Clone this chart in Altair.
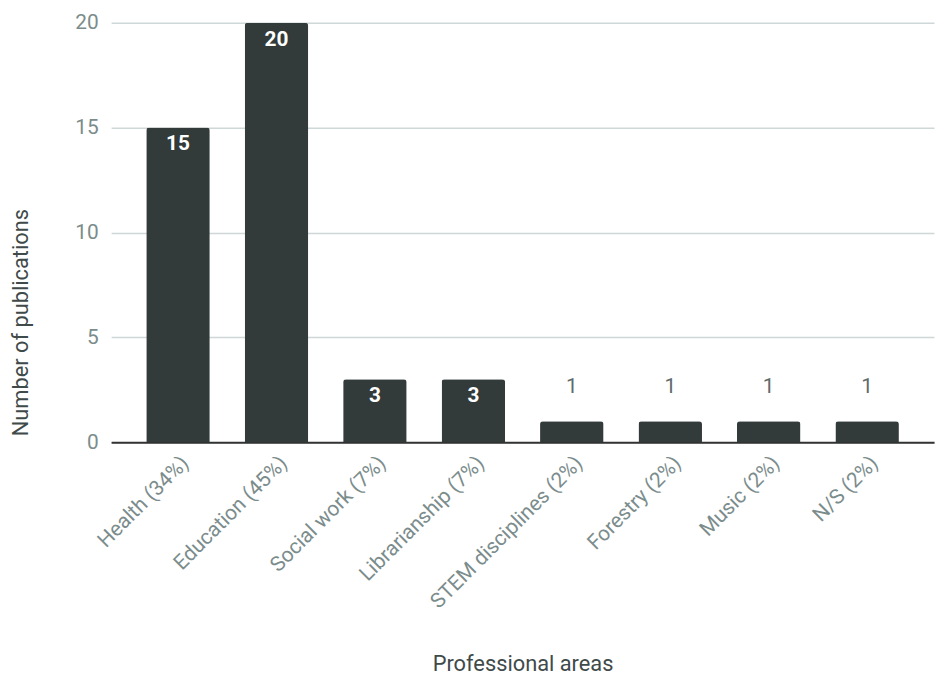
import altair as alt
import pandas as pd

categories = ["Health (34%)", "Education (45%)", "Social work (7%)", "Librarianship (7%)",
              "STEM disciplines (2%)", "Forestry (2%)", "Music (2%)", "N/S (2%)"]
values = [15, 20, 3, 3, 1, 1, 1, 1]

df = pd.DataFrame({"area": categories, "count": values})

FONT = "Roboto"
BAR = "#323a3a"
LABEL = "#7b8c8c"
TITLE = "#3f4a4a"

x = alt.X("area:N", sort=categories, title="Professional areas",
          scale=alt.Scale(paddingInner=0.355, paddingOuter=0.357),
          axis=alt.Axis(labelAngle=-45, labelFontSize=21, labelColor=LABEL, labelFont=FONT,
                        labelPadding=10, labelLimit=0, ticks=False, domainColor="#333333",
                        domainWidth=2,
                        titleFontSize=22, titleFont=FONT, titleFontWeight="normal",
                        titleColor=TITLE, titleY=223, titleBaseline="middle"))
y = alt.Y("count:Q", title="Number of publications",
          scale=alt.Scale(domain=[0, 20]),
          axis=alt.Axis(values=[0, 5, 10, 15, 20], labelFontSize=21, labelColor=LABEL,
                        labelFont=FONT, labelPadding=13, ticks=False, domain=False,
                        gridColor="#cfd8d8", gridWidth=1.5,
                        titleFontSize=22, titleFont=FONT, titleFontWeight="normal",
                        titleColor=TITLE, titleX=-91, titleY=302, titleAngle=-90,
                        titleBaseline="middle"))

base = alt.Chart(df)
bars = base.mark_bar(color=BAR, cornerRadiusTopLeft=3, cornerRadiusTopRight=3).encode(x=x, y=y)

inside = base.transform_filter("datum.count >= 3").mark_text(
    color="white", fontWeight="bold", fontSize=21, font=FONT, dy=17, baseline="middle"
).encode(x=alt.X("area:N", sort=categories), y="count:Q", text="count:Q")

outside = base.transform_filter("datum.count < 3").mark_text(
    color="#5f6b6b", fontSize=21, font=FONT, dy=-34, baseline="middle"
).encode(x=alt.X("area:N", sort=categories), y="count:Q", text="count:Q")

chart = alt.layer(bars, inside, outside).properties(
    width=830, height=423,
    autosize=alt.AutoSizeParams(type="none"),
    padding={"left": 104, "top": 12, "right": 3, "bottom": 236},
).configure_view(stroke=None)

chart.save("out.html", embed_options={"renderer": "svg", "actions": False})
